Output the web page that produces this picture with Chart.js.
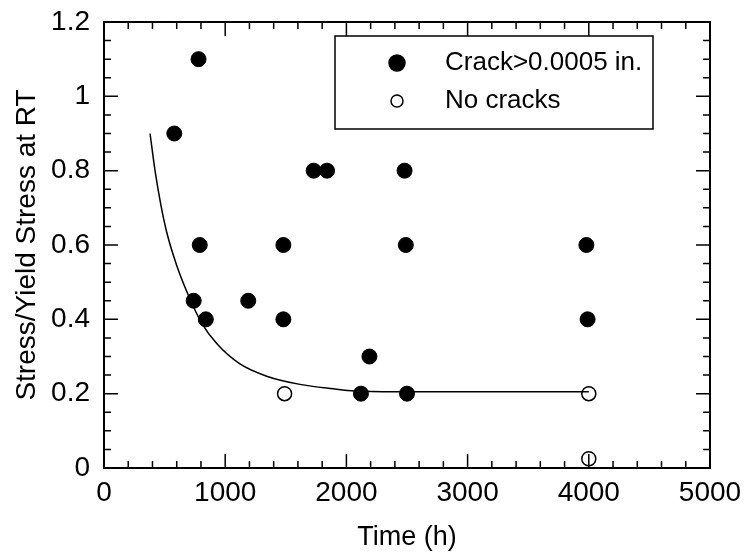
<!DOCTYPE html>
<html>
<head>
<meta charset="utf-8">
<script src="https://cdn.jsdelivr.net/npm/chart.js@4/dist/chart.umd.min.js"></script>
<style>
  html, body { margin: 0; padding: 0; background: #fff; }
  #wrap { width: 750px; height: 554px; }
</style>
</head>
<body>
<div id="wrap"><canvas id="stressChart" width="750" height="554"></canvas></div>
<script>
// specimens that cracked (> 0.0005 in.)
const crackTime   = [580, 780, 790, 740, 840, 1190, 1480, 1480, 1730, 1840, 2190, 2120, 2480, 2490, 2500, 3980, 3990];
const crackStress = [0.9, 1.1, 0.6, 0.45, 0.4, 0.45, 0.6, 0.4, 0.8, 0.8, 0.3, 0.2, 0.8, 0.6, 0.2, 0.6, 0.4];

// specimens without cracks
const noCrackTime   = [1490, 4000, 4000];
const noCrackStress = [0.2, 0.2, 0.025];

// threshold curve
const curveTime   = [380, 421, 468, 517, 600, 696, 806, 930, 1122, 1342, 1617, 1892, 2071, 2400, 3000, 4000];
const curveStress = [0.9, 0.8, 0.71, 0.635, 0.545, 0.465, 0.39, 0.335, 0.28, 0.247, 0.225, 0.213, 0.207, 0.205, 0.205, 0.205];

const xTicks = [0, 1000, 2000, 3000, 4000, 5000];
const yTicks = [0, 0.2, 0.4, 0.6, 0.8, 1, 1.2];

const FONT = '"Liberation Sans", Arial, Helvetica, sans-serif';
Chart.defaults.font.family = FONT;
Chart.defaults.color = '#000';

const pts = (xs, ys) => xs.map((x, i) => ({ x: x, y: ys[i] }));

// box around the plot with inward major + minor ticks on all four sides
const frameTicks = {
  id: 'frameTicks',
  beforeDatasetsDraw(chart) {
    const { ctx, chartArea: a, scales: { x, y } } = chart;
    ctx.save();
    ctx.strokeStyle = '#000';
    ctx.lineWidth = 1.5;
    ctx.beginPath();
    for (let i = 0; i <= 25; i++) {
      const px = x.getPixelForValue(i * 200);
      const len = i % 5 === 0 ? 14 : 7;
      ctx.moveTo(px, a.bottom); ctx.lineTo(px, a.bottom - len);
      ctx.moveTo(px, a.top); ctx.lineTo(px, a.top + len);
    }
    for (let i = 0; i <= 24; i++) {
      const py = y.getPixelForValue(i * 0.05);
      const len = i % 4 === 0 ? 14 : 7;
      ctx.moveTo(a.left, py); ctx.lineTo(a.left + len, py);
      ctx.moveTo(a.right, py); ctx.lineTo(a.right - len, py);
    }
    ctx.stroke();
    ctx.lineWidth = 2;
    ctx.strokeRect(a.left, a.top, a.right - a.left, a.bottom - a.top);
    ctx.restore();
  }
};

// boxed key in the upper right of the plot
const keyBox = {
  id: 'keyBox',
  afterDatasetsDraw(chart) {
    const { ctx, chartArea: a } = chart;
    const left = a.left + 231, top = a.top + 14, w = 318, h = 93;
    ctx.save();
    ctx.fillStyle = '#fff';
    ctx.fillRect(left, top, w, h);
    ctx.strokeStyle = '#000';
    ctx.lineWidth = 1.5;
    ctx.strokeRect(left, top, w, h);
    const entries = chart.data.datasets.filter(d => d.keyRadius);
    entries.forEach((ds, i) => {
      const cy = top + 27 + i * 38;
      ctx.beginPath();
      ctx.arc(left + 62, cy, ds.keyRadius, 0, Math.PI * 2);
      if (ds.backgroundColor !== 'transparent') {
        ctx.fillStyle = ds.backgroundColor;
        ctx.fill();
      }
      ctx.lineWidth = 1.5;
      ctx.stroke();
      ctx.fillStyle = '#000';
      ctx.font = '26px ' + FONT;
      ctx.textBaseline = 'middle';
      ctx.fillText(ds.label, left + 110, cy);
    });
    ctx.restore();
  }
};

new Chart(document.getElementById('stressChart'), {
  type: 'scatter',
  data: {
    datasets: [
      {
        label: 'Crack>0.0005 in.',
        data: pts(crackTime, crackStress),
        backgroundColor: '#000',
        borderColor: '#000',
        pointRadius: 7.5,
        keyRadius: 8
      },
      {
        label: 'No cracks',
        data: pts(noCrackTime, noCrackStress),
        backgroundColor: 'transparent',
        borderColor: '#000',
        borderWidth: 1.5,
        pointRadius: 7,
        keyRadius: 6
      },
      {
        label: 'threshold',
        type: 'line',
        data: pts(curveTime, curveStress),
        borderColor: '#000',
        borderWidth: 1.5,
        pointRadius: 0,
        cubicInterpolationMode: 'monotone',
        fill: false
      }
    ]
  },
  options: {
    responsive: false,
    animation: false,
    devicePixelRatio: 1,
    layout: { padding: { left: 10, right: 40, top: 0, bottom: 0 } },
    plugins: {
      legend: { display: false },
      tooltip: { enabled: false }
    },
    scales: {
      x: {
        type: 'linear',
        min: 0,
        max: 5000,
        afterBuildTicks: s => { s.ticks = xTicks.map(v => ({ value: v })); },
        afterFit: s => { s.height = 86; },
        ticks: { font: { size: 28 }, padding: 8, maxRotation: 0, callback: v => String(v) },
        grid: { display: false, drawTicks: false },
        border: { display: false },
        title: { display: true, text: 'Time (h)', font: { size: 27 }, padding: { top: 11, bottom: 0 } }
      },
      y: {
        min: 0,
        max: 1.2,
        afterBuildTicks: s => { s.ticks = yTicks.map(v => ({ value: v })); },
        afterFit: s => { s.width = 94; s.paddingTop = 22; s.paddingBottom = 0; },
        ticks: { font: { size: 28 }, padding: 14, callback: v => String(+v.toFixed(1)) },
        grid: { display: false, drawTicks: false },
        border: { display: false },
        title: { display: true, text: 'Stress/Yield Stress at RT', font: { size: 28 }, padding: { top: 0, bottom: 9 } }
      }
    }
  },
  plugins: [frameTicks, keyBox]
});
</script>
</body>
</html>
